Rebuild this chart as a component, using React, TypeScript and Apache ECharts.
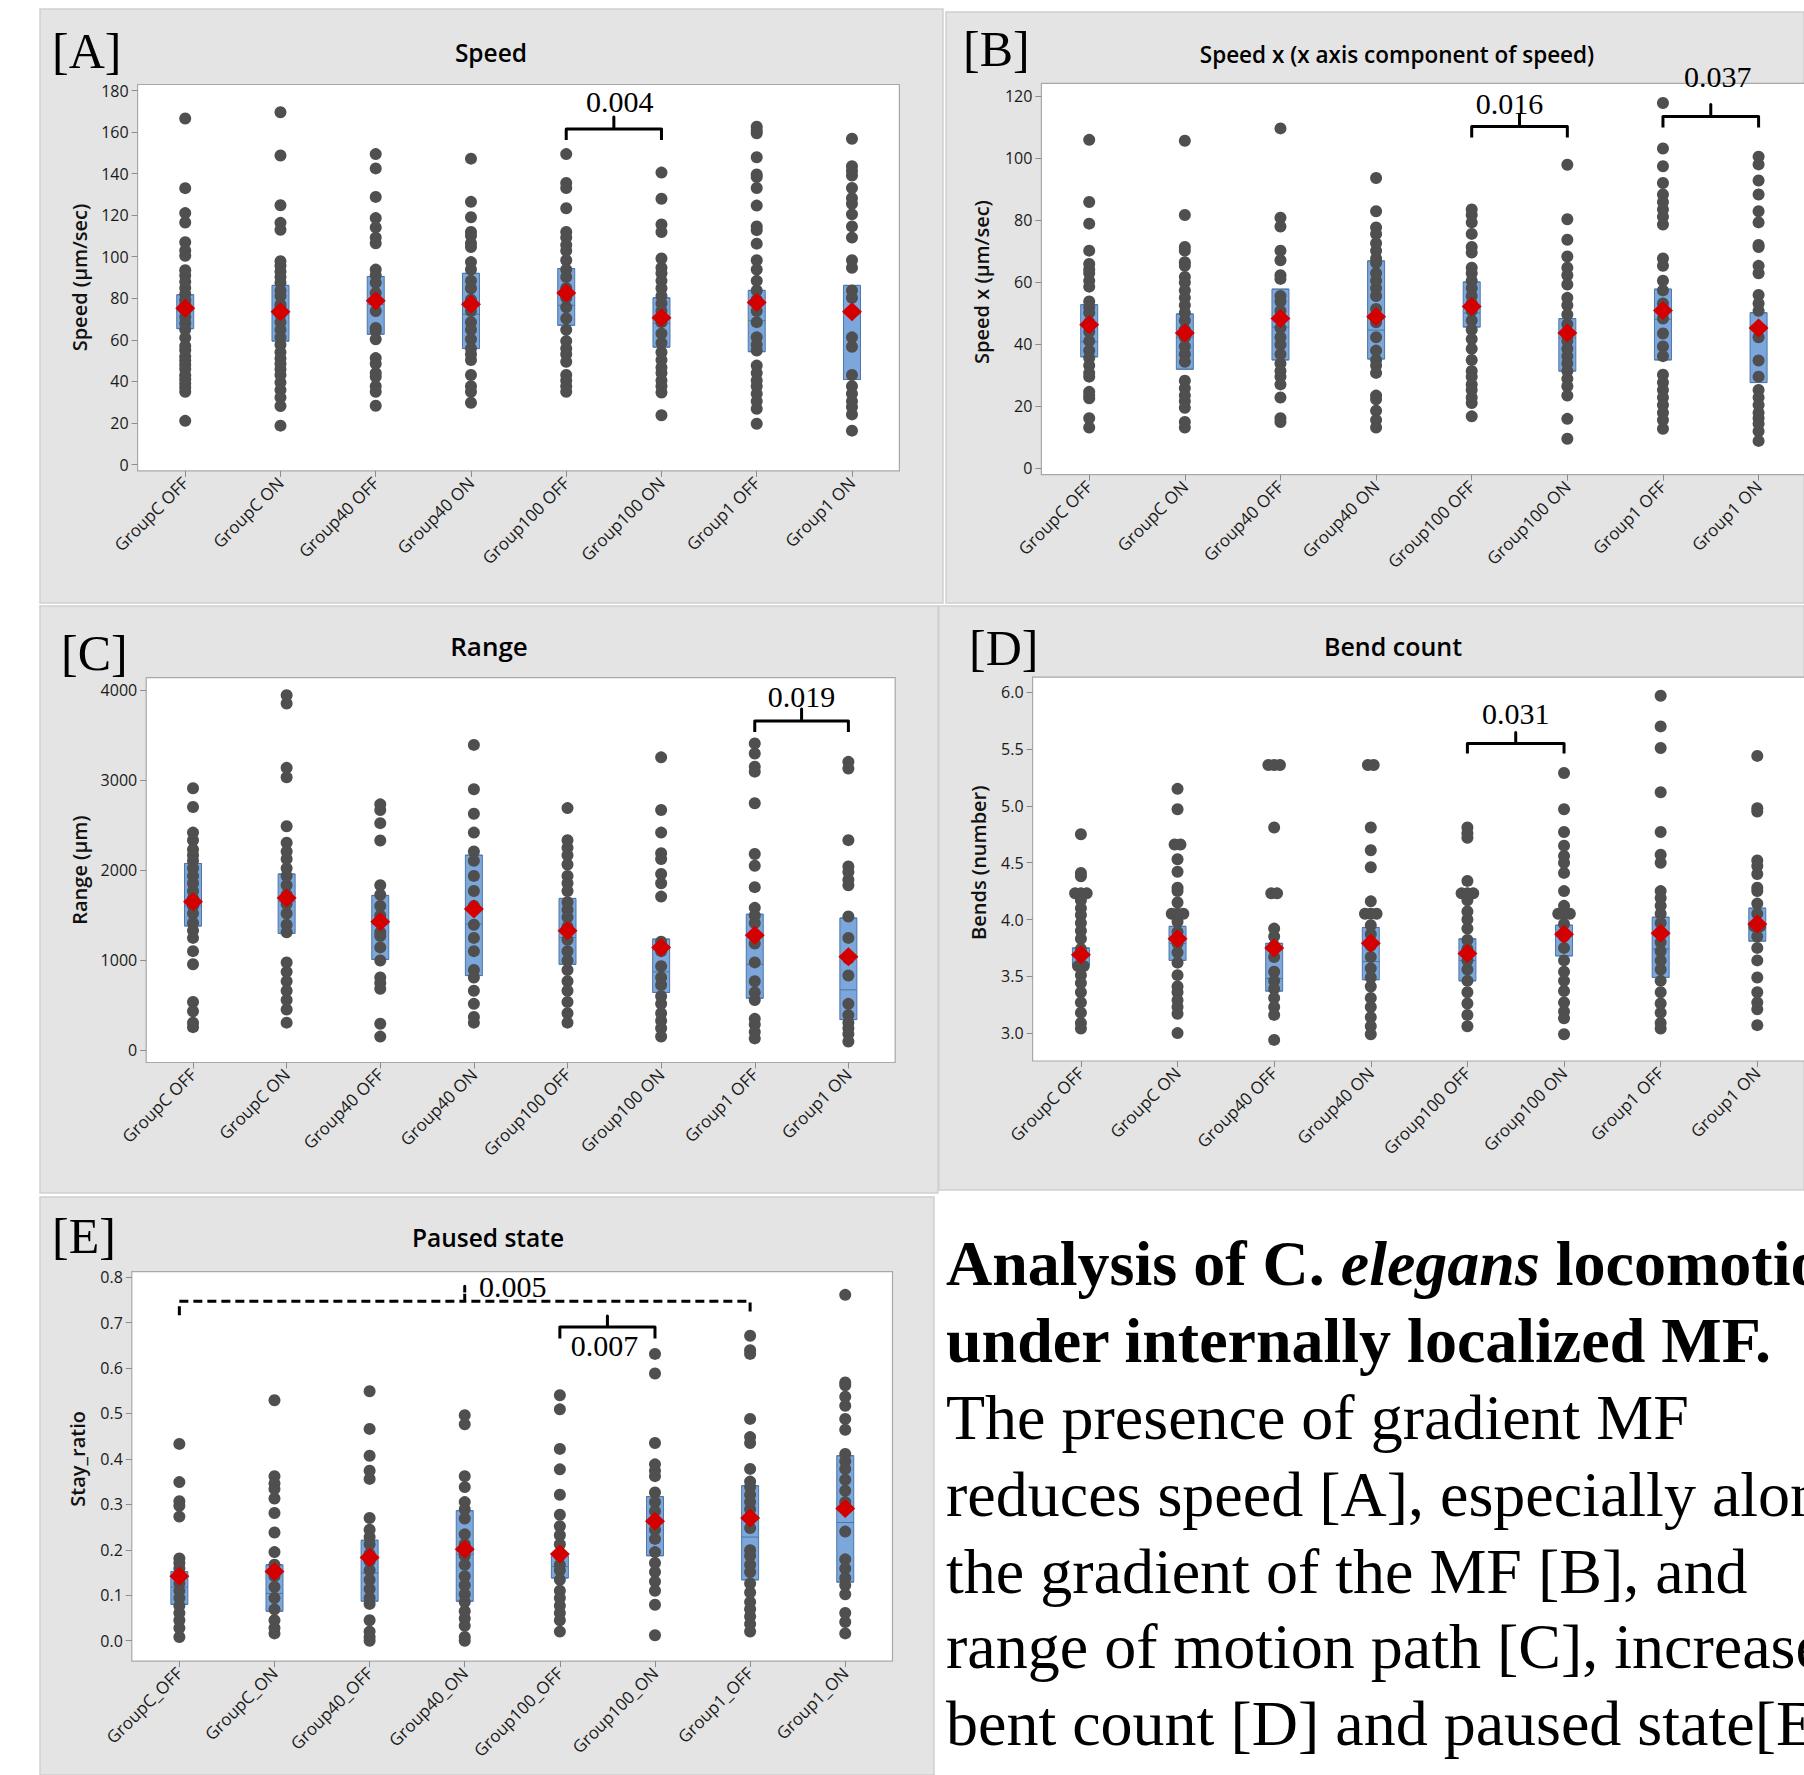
import React, { useEffect, useRef } from "react";
import * as echarts from "echarts";

// ---------------- DATA ----------------
const categories = ["GroupC OFF", "GroupC ON", "Group40 OFF", "Group40 ON", "Group100 OFF", "Group100 ON", "Group1 OFF", "Group1 ON"];
const categoriesE = ["GroupC_OFF", "GroupC_ON", "Group40_OFF", "Group40_ON", "Group100_OFF", "Group100_ON", "Group1_OFF", "Group1_ON"];

// [A] Speed (µm/sec)
const speedDots: number[][] = [
  [166.5, 133, 121, 116.5, 107, 103, 100.5, 93.5, 91, 88, 85, 82, 79, 77, 74, 71, 68, 65, 61, 57, 55, 52, 50, 48, 46, 43, 41, 39, 37, 35, 21],
  [169.5, 148.7, 124.8, 116.3, 113, 97.8, 95.6, 92.9, 90.2, 87.5, 83.8, 81.1, 77, 75.7, 72.1, 68.5, 64.8, 61.2, 57.6, 54, 51, 48.5, 45.8, 43.1, 39.5, 35.9, 32.2, 28.1, 18.7],
  [149.4, 142.5, 128.8, 118.6, 114.1, 109.2, 106.5, 93.8, 91.1, 87.5, 82.6, 78.4, 73.9, 65.7, 64.3, 60.3, 51.2, 48.5, 44, 42.2, 37.7, 35, 28.3],
  [147.2, 126.4, 119, 111.9, 110.1, 106.5, 104.7, 97.4, 93.8, 88.4, 84.8, 79.3, 73.9, 68.5, 64.8, 60.3, 55.8, 53.1, 50.3, 43.1, 37.7, 35, 29.7],
  [149.4, 135.5, 133.1, 123.3, 111.9, 109.2, 105.6, 102.9, 98.3, 93.8, 90.2, 84.8, 80.2, 75.7, 70.3, 64.8, 59.4, 55.8, 53.1, 49.4, 43.1, 40.4, 37.7, 35],
  [140.5, 127.9, 115.5, 111.9, 99.2, 94.7, 92, 88.4, 84.8, 81.1, 77.5, 73.9, 68.5, 63, 58.5, 54, 50.3, 46.7, 44, 40.4, 37.7, 34.6, 23.7],
  [162.6, 160.8, 159.4, 147.9, 139.6, 138.4, 133.1, 124.6, 114.6, 112.8, 106.3, 98.3, 93.8, 88.4, 83.8, 79.3, 73.9, 68.5, 61.2, 57.6, 54.9, 47.6, 44, 40.4, 37.7, 34, 30.4, 26.8, 19.6],
  [156.8, 143.6, 141.3, 139.1, 133.1, 128.2, 125.5, 120.4, 114.6, 109.2, 98.3, 94.7, 83.8, 80.2, 73.9, 61.2, 56.7, 43.1, 37.7, 34, 30.4, 27.7, 24.1, 16.3],
];
const speedQ1 = [65.4, 59.4, 62.7, 55.8, 67, 56.5, 54.3, 40.9];
const speedMedian = [74, 72, 77.1, 72.3, 76.6, 68, 69.2, 73];
const speedQ3 = [81.7, 86.2, 90.5, 92, 94.3, 80.2, 83.8, 86.2];
const speedMean = [75.2, 73.5, 78.8, 77.1, 82.6, 70.6, 78, 73.5];

// [B] Speed x (µm/sec)
const speedXDots: number[][] = [
  [105.8, 85.8, 78.8, 70.1, 65.8, 64, 62.8, 60.4, 58.5, 53.7, 51.9, 50.1, 47, 44, 41, 37.9, 35.5, 33.1, 30.7, 29.5, 24.6, 23.4, 22.5, 16.1, 13.1],
  [105.5, 81.6, 71.3, 70.1, 66.4, 65.2, 61.6, 59.8, 57.3, 54.9, 52.5, 50.1, 47.6, 44.6, 42.2, 39.2, 36.7, 34.3, 28.2, 25.8, 23.4, 21.6, 19.5, 14.9, 13.1],
  [109.5, 80.7, 77.9, 70.1, 67, 62.2, 61, 55.5, 53.7, 50.7, 48.2, 45.2, 42.2, 39.8, 36.7, 33.7, 31.3, 29.5, 27, 22.8, 16.1, 14.9],
  [93.5, 82.8, 77.6, 75.5, 72.5, 70.1, 67.6, 66.2, 62.8, 60.4, 58, 55.5, 51.3, 47, 42.2, 37.9, 34.9, 33.1, 30.7, 23.4, 22.2, 18.5, 15.5, 13.1],
  [83.4, 81.6, 79.2, 75.5, 71.3, 69.5, 64.6, 62.8, 60.4, 58, 55.5, 53.1, 50.7, 47.6, 44.6, 41.6, 38.5, 34.9, 31.3, 29.5, 27, 25.2, 22.8, 21, 16.7],
  [97.8, 80.2, 73.6, 68.2, 64.6, 62.2, 59.2, 54.9, 52.5, 49.5, 46.4, 43.4, 41, 38.5, 36.1, 33.7, 31.3, 28.8, 26.4, 23.4, 15.9, 9.5],
  [117.7, 103, 97.3, 91.9, 88.2, 85.8, 83.4, 81, 78.5, 67.6, 65.2, 60.4, 57.3, 53.1, 48.2, 43.4, 39.2, 36.1, 30.1, 27.6, 25.2, 22.8, 20.4, 17.9, 15.5, 12.7],
  [100.4, 97.9, 92.7, 88.2, 82.8, 79.2, 71.9, 71.3, 65.2, 62.8, 55.8, 53.1, 50.7, 42.2, 34.7, 29.5, 25.2, 22.8, 20.4, 17.9, 16.1, 14.3, 11.9, 8.8],
];
const speedXQ1 = [35.9, 31.9, 34.9, 35.2, 45.5, 31.3, 34.9, 27.6];
const speedXMedian = [40.7, 42.2, 45.5, 44.5, 50, 42, 48, 46];
const speedXQ3 = [52.7, 49.7, 57.7, 66.8, 60, 48.2, 57.7, 50.1];
const speedXMean = [46.2, 43.6, 48.2, 48.8, 52.1, 43.6, 50.8, 45.2];

// [C] Range (µm)
const rangeDots: number[][] = [
  [2909, 2700, 2416, 2332, 2228, 2165, 2103, 2019, 1935, 1852, 1768, 1684, 1601, 1517, 1413, 1329, 1246, 1099, 953, 535, 431, 305, 255],
  [3942, 3850, 3135, 3030, 2487, 2303, 2207, 2123, 2019, 1935, 1831, 1726, 1622, 1517, 1392, 1308, 974, 869, 765, 660, 556, 451, 305],
  [2730, 2667, 2521, 2328, 1831, 1726, 1601, 1496, 1308, 1267, 1141, 995, 807, 744, 681, 293, 150],
  [3390, 2897, 2625, 2416, 2207, 2103, 1935, 1768, 1601, 1392, 1246, 1099, 890, 807, 660, 514, 368, 305],
  [2688, 2332, 2249, 2165, 2061, 1935, 1852, 1768, 1643, 1559, 1475, 1371, 1225, 1099, 995, 890, 765, 660, 535, 410, 305],
  [3252, 2667, 2416, 2186, 2123, 1956, 1852, 1705, 1204, 1099, 932, 807, 723, 598, 514, 410, 326, 242, 150],
  [3407, 3294, 3148, 3093, 2742, 2178, 2048, 1810, 1580, 1496, 1413, 1267, 1183, 974, 765, 640, 556, 347, 284, 201, 130],
  [3202, 3127, 2332, 2040, 1977, 1893, 1831, 1484, 1246, 1016, 828, 514, 389, 305, 242, 180, 96],
];
const rangeQ1 = [1379, 1296, 1007, 828, 953, 640, 577, 339];
const rangeMedian = [1601, 1650, 1400, 1400, 1250, 869, 953, 669];
const rangeQ3 = [2073, 1956, 1718, 2165, 1685, 1233, 1509, 1467];
const rangeMean = [1647, 1689, 1425, 1568, 1325, 1141, 1275, 1037];

// [D] Bends (number)
const bendDots: number[][] = [
  [4.75, 4.41, 4.38, 4.23, 4.23, 4.23, 4.17, 4.1, 4.04, 3.97, 3.9, 3.83, 3.74, 3.71, 3.59, 3.59, 3.51, 3.44, 3.36, 3.27, 3.18, 3.09, 3.04],
  [5.15, 4.97, 4.66, 4.66, 4.53, 4.42, 4.28, 4.25, 4.15, 4.05, 4.05, 4.05, 3.98, 3.89, 3.79, 3.71, 3.62, 3.51, 3.41, 3.36, 3.29, 3.23, 3.17, 3.0],
  [5.36, 5.36, 5.36, 4.81, 4.23, 4.23, 3.92, 3.85, 3.77, 3.67, 3.54, 3.46, 3.39, 3.31, 3.23, 3.16, 2.94],
  [5.36, 5.36, 4.81, 4.61, 4.46, 4.16, 4.05, 4.05, 4.05, 3.95, 3.87, 3.77, 3.67, 3.57, 3.49, 3.41, 3.31, 3.23, 3.14, 3.06, 2.99],
  [4.81, 4.76, 4.72, 4.34, 4.23, 4.23, 4.23, 4.17, 4.07, 4.0, 3.92, 3.82, 3.74, 3.64, 3.56, 3.46, 3.36, 3.26, 3.16, 3.06],
  [5.29, 4.97, 4.77, 4.65, 4.56, 4.5, 4.41, 4.25, 4.12, 4.05, 4.05, 4.05, 3.96, 3.85, 3.75, 3.64, 3.54, 3.46, 3.37, 3.27, 3.19, 3.13, 2.99],
  [5.97, 5.7, 5.51, 5.12, 4.77, 4.57, 4.5, 4.25, 4.19, 4.12, 4.05, 3.97, 3.89, 3.8, 3.72, 3.64, 3.56, 3.46, 3.36, 3.26, 3.18, 3.09, 3.04],
  [5.44, 4.98, 4.95, 4.52, 4.47, 4.4, 4.28, 4.25, 4.14, 4.05, 3.94, 3.94, 3.85, 3.75, 3.64, 3.49, 3.36, 3.27, 3.21, 3.07],
];
const bendQ1 = [3.6, 3.64, 3.37, 3.47, 3.46, 3.68, 3.49, 3.81];
const bendMedian = [3.68, 3.79, 3.48, 3.63, 3.64, 3.85, 3.74, 3.95];
const bendQ3 = [3.75, 3.94, 3.79, 3.93, 3.83, 3.95, 4.02, 4.1];
const bendMean = [3.69, 3.83, 3.75, 3.79, 3.7, 3.87, 3.88, 3.96];

// [E] Stay_ratio
const stayDots: number[][] = [
  [0.433, 0.349, 0.307, 0.297, 0.273, 0.181, 0.171, 0.159, 0.142, 0.126, 0.11, 0.094, 0.077, 0.061, 0.045, 0.028, 0.008],
  [0.529, 0.362, 0.346, 0.334, 0.313, 0.281, 0.238, 0.195, 0.167, 0.142, 0.118, 0.094, 0.069, 0.045, 0.028, 0.016],
  [0.549, 0.466, 0.407, 0.374, 0.356, 0.27, 0.244, 0.228, 0.212, 0.191, 0.175, 0.155, 0.134, 0.114, 0.094, 0.081, 0.045, 0.02, 0.008, 0.0],
  [0.496, 0.476, 0.362, 0.338, 0.305, 0.289, 0.269, 0.234, 0.212, 0.187, 0.167, 0.142, 0.122, 0.102, 0.085, 0.065, 0.049, 0.033, 0.008, 0.0],
  [0.54, 0.509, 0.422, 0.377, 0.321, 0.277, 0.252, 0.232, 0.212, 0.187, 0.167, 0.155, 0.134, 0.11, 0.094, 0.077, 0.061, 0.045, 0.02],
  [0.631, 0.588, 0.435, 0.388, 0.374, 0.362, 0.326, 0.305, 0.285, 0.264, 0.244, 0.224, 0.195, 0.171, 0.151, 0.13, 0.11, 0.079, 0.012],
  [0.671, 0.639, 0.631, 0.488, 0.448, 0.435, 0.378, 0.35, 0.338, 0.321, 0.305, 0.289, 0.269, 0.248, 0.199, 0.187, 0.167, 0.151, 0.126, 0.106, 0.085, 0.069, 0.053, 0.037, 0.02],
  [0.761, 0.568, 0.562, 0.537, 0.517, 0.488, 0.464, 0.411, 0.395, 0.378, 0.354, 0.33, 0.305, 0.24, 0.179, 0.159, 0.138, 0.122, 0.102, 0.061, 0.041, 0.016],
];
const stayQ1 = [0.08, 0.065, 0.087, 0.087, 0.138, 0.187, 0.134, 0.129];
const stayMedian = [0.118, 0.104, 0.149, 0.19, 0.163, 0.26, 0.228, 0.26];
const stayQ3 = [0.152, 0.167, 0.221, 0.286, 0.187, 0.317, 0.341, 0.407];
const stayMean = [0.142, 0.152, 0.183, 0.201, 0.191, 0.263, 0.27, 0.291];

// significance brackets: panel, from category, to category, level (data units), p-value text
const annotationPanels = [0, 1, 1, 2, 3, 4, 4];
const annotationFrom = [4, 4, 6, 6, 4, 0, 4];
const annotationTo = [5, 5, 7, 7, 5, 6, 5];
const annotationLevel = [161.5, 110.1, 113.3, 3657, 5.549, 0.747, 0.69];
const annotationText = ["0.004", "0.016", "0.037", "0.019", "0.031", "0.005", "0.007"];
const annotationDashed = [false, false, false, false, false, true, false];

const captionLines = [
  "under internally localized MF.",
  "The presence of gradient MF",
  "reduces speed [A], especially along",
  "the gradient of the MF [B], and",
  "range of motion path [C], increased",
  "bent count [D] and paused state[E].",
];

// ---------------- STYLE / LAYOUT ----------------
const SANS = "'Open Sans', 'Noto Sans', 'DejaVu Sans', sans-serif";
const SERIF = "'Liberation Serif', 'DejaVu Serif', serif";
const PANEL_BG = "#E4E4E4";
const DOT = "#4F4F4F";
const BOX_FILL = "#7BA7DC";
const BOX_BORDER = "#4F76A6";
const MEAN = "#D40000";

const panels = [
  {
    letter: "[A]", title: "Speed", titleSize: 24.5, yName: "Speed (µm/sec)", cats: categories,
    dots: speedDots, q1: speedQ1, med: speedMedian, q3: speedQ3, mean: speedMean,
    min: 0, max: 180, interval: 20, dec: 0,
    bg: [40, 9, 903, 594], frame: [137.6, 84.5, 761.8, 386.4], gridTop: 90.5, gridH: 374, gridW: 762,
    offset: 6.4, nameGap: 48, titleXY: [491, 52], letterXY: [52, 51],
  },
  {
    letter: "[B]", title: "Speed x (x axis component of speed)", titleSize: 22.5, yName: "Speed x (µm/sec)", cats: categories,
    dots: speedXDots, q1: speedXQ1, med: speedXMedian, q3: speedXQ3, mean: speedXMean,
    min: 0, max: 120, interval: 20, dec: 0,
    bg: [946, 12, 858, 591], frame: [1041.4, 83.4, 765, 391.2], gridTop: 95.8, gridH: 372.4, gridW: 765,
    offset: 6.4, nameGap: 50, titleXY: [1397, 54], letterXY: [963, 49],
  },
  {
    letter: "[C]", title: "Range", titleSize: 26, yName: "Range (µm)", cats: categories,
    dots: rangeDots, q1: rangeQ1, med: rangeMedian, q3: rangeQ3, mean: rangeMean,
    min: 0, max: 4000, interval: 1000, dec: 0,
    bg: [40, 606, 898, 587], frame: [146.2, 677.6, 749, 384.9], gridTop: 690, gridH: 360.1, gridW: 749,
    offset: 12.4, nameGap: 57, titleXY: [489, 646], letterXY: [61, 653],
  },
  {
    letter: "[D]", title: "Bend count", titleSize: 25, yName: "Bends (number)", cats: categories,
    dots: bendDots, q1: bendQ1, med: bendMedian, q3: bendQ3, mean: bendMean,
    min: 3, max: 6, interval: 0.5, dec: 1,
    bg: [939, 606, 865, 584], frame: [1032.6, 677.2, 773, 383.8], gridTop: 692.3, gridH: 340.8, gridW: 773,
    offset: 28, nameGap: 44, titleXY: [1393, 646], letterXY: [969, 648],
  },
  {
    letter: "[E]", title: "Paused state", titleSize: 24.5, yName: "Stay_ratio", cats: categoriesE,
    dots: stayDots, q1: stayQ1, med: stayMedian, q3: stayQ3, mean: stayMean,
    min: 0, max: 0.8, interval: 0.1, dec: 1,
    bg: [40, 1197, 894, 578], frame: [131.8, 1271.6, 760.7, 389.5], gridTop: 1277.1, gridH: 363.6, gridW: 761,
    offset: 20.4, nameGap: 44, titleXY: [488, 1237], letterXY: [52, 1236],
  },
];

// per-annotation pixel styling: [dx, dy] of label relative to notch, end drop, notch height
const annLabelOffset = [[6, -27], [-10, -23], [7, -40], [0, -24], [0, -30], [48, -15], [-3, 18]];
const annDrop = [11, 11, 11, 11, 10, 14, 11.5];
const annNotch = [12, 12, 12, 12, 11, 15, 11];

function dotPoints(groups: number[][]) {
  const pts: number[][] = [];
  groups.forEach((vals, i) => {
    const counts = new Map<number, number>();
    vals.forEach((v) => counts.set(v, (counts.get(v) || 0) + 1));
    const seen = new Map<number, number>();
    vals.forEach((v) => {
      const n = counts.get(v) || 1;
      const k = seen.get(v) || 0;
      seen.set(v, k + 1);
      pts.push([i + (k - (n - 1) / 2) * 0.06, v]);
    });
  });
  return pts;
}

function txt(x: number, y: number, text: string, font: string, align = "center", z = 50) {
  return {
    type: "text", x, y, z, silent: true,
    style: {
      text, font, fill: "#000",
      textAlign: align, align, textVerticalAlign: "middle", verticalAlign: "middle",
    },
  };
}

export default function App() {
  const ref = useRef<HTMLDivElement>(null);

  useEffect(() => {
    if (!ref.current) return;
    const chart = echarts.init(ref.current, undefined, { renderer: "svg", width: 1804, height: 1775 });

    const base: any[] = [];
    panels.forEach((p) => {
      base.push({
        type: "rect", z: -20, silent: true,
        shape: { x: p.bg[0], y: p.bg[1], width: p.bg[2], height: p.bg[3] },
        style: { fill: PANEL_BG, stroke: "#CFCFCF", lineWidth: 1.5 },
      });
      base.push({
        type: "rect", z: -10, silent: true,
        shape: { x: p.frame[0], y: p.frame[1], width: p.frame[2], height: p.frame[3] },
        style: { fill: "#FFFFFF", stroke: "#A8A8A8", lineWidth: 1.2 },
      });
      base.push(txt(p.titleXY[0], p.titleXY[1], p.title, `600 ${p.titleSize}px ${SANS}`));
      base.push(txt(p.letterXY[0], p.letterXY[1], p.letter, `50px ${SERIF}`, "left"));
    });

    // caption
    base.push({
      type: "text", x: 946, y: 1263, z: 50, silent: true,
      style: {
        text: "{b|Analysis of C. }{bi|elegans}{b| locomotion}",
        rich: {
          b: { font: `bold 64px ${SERIF}`, fill: "#000" },
          bi: { font: `italic bold 64px ${SERIF}`, fill: "#000" },
        },
        fill: "#000", textVerticalAlign: "middle", verticalAlign: "middle",
      },
    });
    const captionY = [1340, 1417, 1494, 1571, 1646, 1723];
    captionLines.forEach((line, i) => {
      base.push(txt(946, captionY[i], line, `${i === 0 ? "bold " : ""}64px ${SERIF}`, "left"));
    });

    const option: any = {
      animation: false,
      backgroundColor: "#FFFFFF",
      textStyle: { fontFamily: SANS },
      grid: panels.map((p) => ({
        left: p.frame[0], top: p.gridTop, width: p.gridW, height: p.gridH,
        containLabel: false, outerBoundsMode: "none", show: false,
      })),
      xAxis: panels.flatMap((p, i) => [
        {
          type: "category", gridIndex: i, data: p.cats, position: "bottom", offset: p.offset,
          axisLine: { show: false, onZero: false },
          axisTick: { show: true, alignWithLabel: true, length: 6, lineStyle: { color: "#8C8C8C" } },
          axisLabel: {
            interval: 0, rotate: 45, margin: 9, fontSize: 17,
            color: "#1A1A1A", fontFamily: SANS,
          },
          splitLine: { show: false },
        },
        { type: "value", gridIndex: i, min: -0.5, max: 7.5, show: false, axisLine: { onZero: false } },
      ]),
      yAxis: panels.map((p, i) => ({
        type: "value", gridIndex: i, min: p.min, max: p.max, interval: p.interval, position: "left",
        name: p.yName, nameLocation: "middle", nameRotate: 90, nameGap: p.nameGap,
        nameTextStyle: { fontSize: 20, fontWeight: 600, color: "#111", fontFamily: SANS },
        axisLine: { show: false, onZero: false },
        axisTick: { show: true, length: 6, lineStyle: { color: "#8C8C8C" } },
        axisLabel: {
          margin: 9, fontSize: 16, color: "#1A1A1A", fontFamily: SANS,
          formatter: (v: number) => v.toFixed(p.dec),
        },
        splitLine: { show: false },
      })),
      series: panels.flatMap((p, i) => [
        {
          type: "boxplot", xAxisIndex: 2 * i, yAxisIndex: i, z: 2, silent: true,
          boxWidth: [17, 17],
          itemStyle: { color: BOX_FILL, borderColor: BOX_BORDER, borderWidth: 1 },
          data: p.q1.map((q, k) => [q, q, p.med[k], p.q3[k], p.q3[k]]),
        },
        {
          type: "scatter", xAxisIndex: 2 * i + 1, yAxisIndex: i, z: 3, clip: false, silent: true,
          symbol: "circle", symbolSize: 12,
          itemStyle: { color: DOT, opacity: 1 },
          data: dotPoints(p.dots),
        },
        {
          type: "scatter", xAxisIndex: 2 * i + 1, yAxisIndex: i, z: 4, clip: false, silent: true,
          symbol: "diamond", symbolSize: [20, 19],
          itemStyle: { color: MEAN, opacity: 1 },
          data: p.mean.map((m, k) => [k, m]),
        },
      ]),
      graphic: { elements: base },
    };

    chart.setOption(option);

    const ann: any[] = [];
    annotationPanels.forEach((pi, a) => {
      const finder = { xAxisIndex: 2 * pi + 1, yAxisIndex: pi };
      const p1 = chart.convertToPixel(finder as any, [annotationFrom[a], annotationLevel[a]]) as number[];
      const p2 = chart.convertToPixel(finder as any, [annotationTo[a], annotationLevel[a]]) as number[];
      if (!p1 || !p2) return;
      const y = p1[1];
      const xm = (p1[0] + p2[0]) / 2;
      const drop = annDrop[a];
      const notch = annNotch[a];
      ann.push({
        type: "polyline", z: 60, silent: true,
        shape: {
          points: [
            [p1[0], y + drop], [p1[0], y], [xm, y], [xm, y - notch], [xm, y], [p2[0], y], [p2[0], y + drop],
          ],
        },
        style: {
          fill: "none", stroke: "#000", lineWidth: 3, lineJoin: "round",
          lineDash: annotationDashed[a] ? [9, 5] : null,
        },
      });
      ann.push(txt(xm + annLabelOffset[a][0], y + annLabelOffset[a][1], annotationText[a], `30px ${SERIF}`));
    });

    chart.setOption({ graphic: { elements: [...base, ...ann] } });

    return () => chart.dispose();
  }, []);

  return (
    <div
      ref={ref}
      style={{ position: "absolute", left: 0, top: 0, width: 1804, height: 1775, background: "#fff" }}
    />
  );
}
